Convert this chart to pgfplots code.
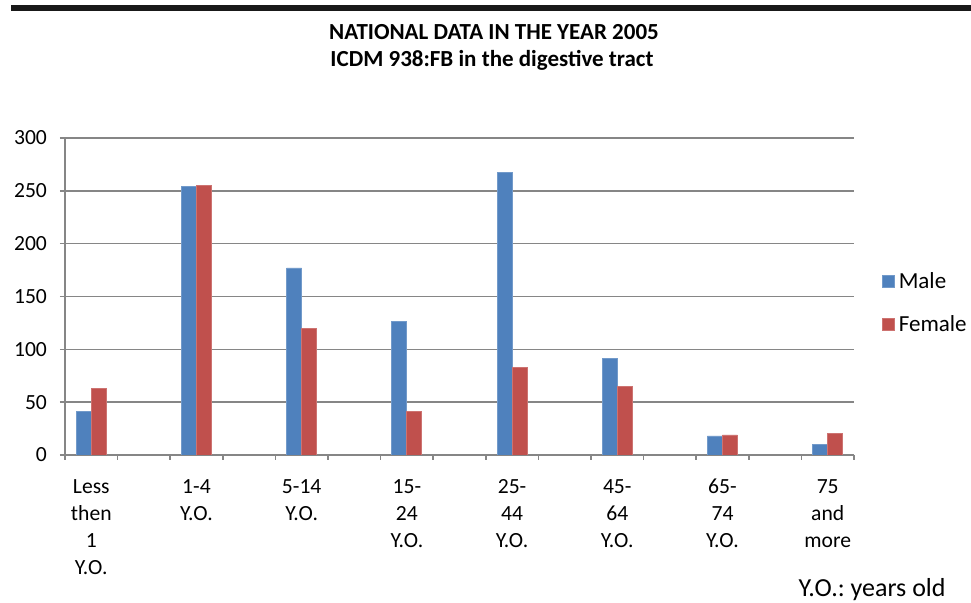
\documentclass[border=0pt]{standalone}
\usepackage{fontspec}
\setmainfont{Carlito}
\usepackage{pgfplots}
\pgfplotsset{compat=1.18}
\definecolor{male}{RGB}{79,129,189}
\definecolor{female}{RGB}{192,80,77}
\definecolor{gridc}{RGB}{134,134,134}
\newcommand{\tl}[1]{\begin{tabular}[t]{@{}c@{}}#1\end{tabular}}
\frenchspacing
\begin{document}
\begin{tikzpicture}
\useasboundingbox (-32.5pt,-74pt) rectangle (453pt,227.5pt);
\fill[black!90] (-27pt,225pt) rectangle (453pt,222pt);
\begin{axis}[
  at={(0,0)}, anchor=south west,
  scale only axis, width=394.5pt, height=158.5pt,
  ybar=0pt, bar width=7.5pt,
  xmin=-0.5, xmax=14.5, ymin=0, ymax=300,
  axis lines*=left,
  axis line style={gridc, line width=0.75pt},
  xtick={0,2,...,14},
  xticklabels={{\tl{Less\\then\\1\\Y.O.}}, {\tl{1-4\\Y.O.}}, {\tl{5-14\\Y.O.}}, {\tl{15-\\24\\Y.O.}}, {\tl{25-\\44\\Y.O.}}, {\tl{45-\\64\\Y.O.}}, {\tl{65-\\74\\Y.O.}}, {\tl{75\\and\\more}}},
  minor xtick={-0.5,0.5,...,14.5},
  major x tick style={draw=none},
  minor x tick style={gridc, line width=0.75pt},
  ytick={0,50,...,300},
  ytick style={gridc, line width=0.75pt},
  tick align=outside,
  major tick length=2.5pt, minor tick length=2.5pt,
  xtick pos=bottom, ytick pos=left,
  ymajorgrids, grid style={gridc, line width=0.75pt},
  tick label style={font=\fontsize{10.8}{13.5}\selectfont, text=black},
  xticklabel style={anchor=north, yshift=-4pt},
  yticklabel style={xshift=-3pt},
  /pgf/number format/assume math mode=true,
  legend style={draw=none, fill=none, at={(1.035,0.59)}, anchor=north west,
    font=\fontsize{11.5}{13.5}\selectfont, row sep=8pt, inner sep=0pt},
  legend cell align=left,
  legend image code/.code={\fill[#1] (0pt,-3pt) rectangle (6pt,3pt);},
]
\addplot[fill=male, draw=male!80!white] coordinates {(0,41) (2,254) (4,177) (6,126) (8,267) (10,91) (12,18) (14,10)};
\addlegendentry{Male}
\addplot[fill=female, draw=female!80!white] coordinates {(0,63) (2,255) (4,120) (6,41) (8,83) (10,65) (12,19) (14,20)};
\addlegendentry{Female}
\end{axis}
\node[font=\fontsize{11.5}{13}\selectfont\bfseries] at (214.5pt,211.5pt) {NATIONAL DATA IN THE YEAR 2005};
\node[font=\fontsize{11.5}{13}\selectfont\bfseries] at (213.5pt,197.5pt) {ICDM 938:FB in the digestive tract};
\node[anchor=east, inner sep=0pt, font=\fontsize{13}{15}\selectfont] at (440.5pt,-67.5pt) {Y.O.: years old};
\end{tikzpicture}
\end{document}
